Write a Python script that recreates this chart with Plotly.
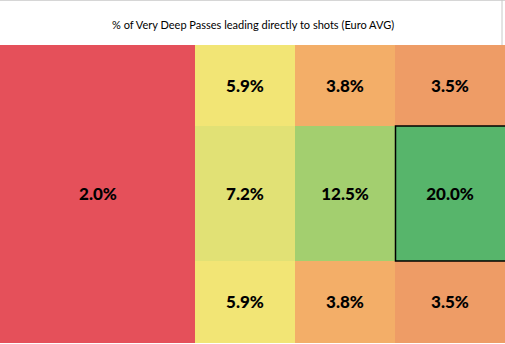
import plotly.graph_objects as go

# ---- data ----
title = "% of Very Deep Passes leading directly to shots (Euro AVG)"
left_value = 2.0                      # big left block (spans all rows)
top_row = [5.9, 3.8, 3.5]
middle_row = [7.2, 12.5, 20.0]
bottom_row = [5.9, 3.8, 3.5]

# colour per value (Excel-like colour scale)
value_colors = [
    (2.0, "#E5505A"),
    (3.5, "#EE9C66"),
    (3.8, "#F3AE68"),
    (5.9, "#F2E575"),
    (7.2, "#E1E175"),
    (12.5, "#A3CF6F"),
    (20.0, "#57B56B"),
]

# ---- layout constants (pixel-like cell edges) ----
W, H = 505, 344
x_edges = [0, 195, 295, 395, 505]
y_edges = [45, 126, 261, 343]

rows = [top_row, middle_row, bottom_row]
z = [[left_value] + r for r in rows]
text = []
for i, r in enumerate(rows):
    first = f"{left_value:.1f}%" if i == 1 else ""
    text.append([first] + [f"{v:.1f}%" for v in r])

vmin = min(v for v, _ in value_colors)
vmax = max(v for v, _ in value_colors)
colorscale = [[(v - vmin) / (vmax - vmin), c] for v, c in value_colors]

fig = go.Figure(go.Heatmap(
    z=z, x=x_edges, y=y_edges, text=text, texttemplate="%{text}",
    textfont=dict(family="Lato", size=17, color="black", weight=900),
    colorscale=colorscale, zmin=vmin, zmax=vmax, showscale=False,
    xgap=0, ygap=0, hoverinfo="skip",
))

# highlight border around the max cell
imax = max(range(3), key=lambda j: middle_row[j])
fig.add_shape(type="rect", x0=x_edges[imax + 1] + 0.5, x1=x_edges[imax + 2] + 2,
              y0=y_edges[1], y1=y_edges[2], xref="x", yref="y",
              line=dict(color="black", width=1.5))

# header frame lines (light grey)
fig.add_shape(type="line", x0=0, x1=1, y0=1, y1=1, xref="paper", yref="paper",
              line=dict(color="#C8C8C8", width=1.5))
fig.add_shape(type="line", x0=502/W, x1=502/W, y0=1, y1=1 - 45/H, xref="paper", yref="paper",
              line=dict(color="#C8C8C8", width=1))

fig.add_annotation(text=title, x=0.5, y=1 - 24/H, xref="paper", yref="paper",
                   showarrow=False, font=dict(family="Lato", size=11, color="black"),
                   xanchor="center", yanchor="middle")

fig.update_xaxes(range=[0, W], visible=False, domain=[0, 1], fixedrange=True)
fig.update_yaxes(range=[343, 45], visible=False, domain=[1/H, 299/H], fixedrange=True)
fig.update_layout(width=W, height=H, margin=dict(l=0, r=0, t=0, b=0),
                  paper_bgcolor="white", plot_bgcolor="white", showlegend=False)

fig.write_html("out.html")
